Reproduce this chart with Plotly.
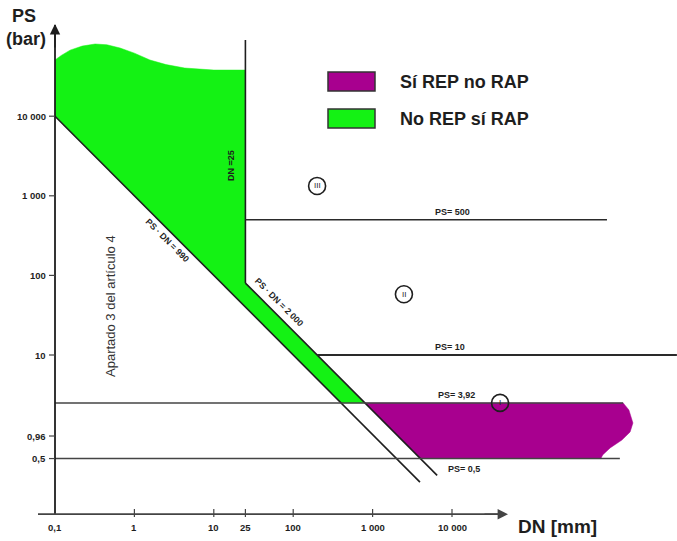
import numpy as np
import plotly.graph_objects as go

# ---------------- data (DN in mm, PS in bar) ----------------
green_dn = [0.1, 0.12, 0.155, 0.22, 0.32, 0.45, 0.66, 1.0, 1.57, 2.5, 4.3, 10, 25, 25, 800, 400, 0.1]
green_ps = [50800, 58000, 67600, 76000, 80700, 79000, 71900, 62000, 50800, 44500, 40300, 38000, 38000,
            80, 2.5, 2.5, 10000]

mag_dn = [800, 1.43e6, 1.69e6, 1.9e6, 1.75e6, 1.38e6, 9.8e5, 7.9e5, 7.5e5, 4000]
mag_ps = [2.5, 2.5, 2.04, 1.4, 1.08, 0.855, 0.68, 0.555, 0.5, 0.5]

line_lower_dn = [0.1, 3950]      # PS·DN = 990
line_lower_ps = [10000, 0.253]
line_upper_dn = [25, 6500]       # PS·DN = 2 000
line_upper_ps = [80, 0.308]
dn25_dn = [25, 25]
dn25_ps = [80, 90600]
ps500_dn = [25, 8.95e5]
ps500_ps = [500, 500]
ps10_dn = [200, 6.8e6]
ps10_ps = [10, 10]
ps392_dn = [0.1, 1.43e6]
ps392_ps = [2.5, 2.5]
ps05_dn = [0.1, 1.3e6]
ps05_ps = [0.5, 0.5]

x_tick_vals = [0.1, 1, 10, 25, 100, 1000, 10000]
x_tick_text = ["0,1", "1", "10", "25", "100", "1 000", "10 000"]
y_tick_vals = [10000, 1000, 100, 10, 0.96, 0.5]
y_tick_text = ["10 000", "1 000", "100", "10", "0,96", "0,5"]

cat_dn = [200, 2480, 40300]
cat_ps = [1330, 58, 2.5]
cat_txt = ["III", "II", "I"]

legend_labels = ["Sí REP no RAP", "No REP sí RAP"]
GREEN = "#14F214"
MAGENTA = "#A8008F"
DARK = "#1e1e1e"

W, H = 677, 541
# pixel -> log helpers (for label placement only)
def lx(px):
    return -1 + (px - 55) / 79.4
def ly(py):
    return 1 + (355 - py) / 79.6

FONT = "Liberation Sans"

fig = go.Figure()
fig.add_trace(go.Scatter(x=green_dn, y=green_ps, fill="toself", fillcolor=GREEN,
                         mode="lines", line=dict(color=GREEN, width=0.5), hoverinfo="skip"))
fig.add_trace(go.Scatter(x=mag_dn, y=mag_ps, fill="toself", fillcolor=MAGENTA,
                         mode="lines", line=dict(color=MAGENTA, width=0.5), hoverinfo="skip"))

for xs, ys, w, c in [
    (line_lower_dn, line_lower_ps, 1.6, DARK),
    (line_upper_dn, line_upper_ps, 1.6, DARK),
    (dn25_dn, dn25_ps, 1.6, DARK),
    (ps500_dn, ps500_ps, 1.5, "#2a2a2a"),
    (ps10_dn, ps10_ps, 2.0, "#2a2a2a"),
    (ps392_dn, ps392_ps, 1.5, "#444444"),
    (ps05_dn, ps05_ps, 1.5, "#444444"),
]:
    fig.add_trace(go.Scatter(x=xs, y=ys, mode="lines", line=dict(color=c, width=w), hoverinfo="skip"))

# axes lines
y_top = 10 ** ly(25)
fig.add_trace(go.Scatter(x=[0.1, 0.1], y=[0.1, y_top], mode="lines",
                         line=dict(color=DARK, width=1.8), hoverinfo="skip"))
fig.add_trace(go.Scatter(x=[10 ** lx(38), 10 ** lx(505)], y=[0.1, 0.1], mode="lines",
                         line=dict(color="#444444", width=1.8), hoverinfo="skip"))

# tick marks
for v in x_tick_vals[1:]:
    fig.add_trace(go.Scatter(x=[v, v], y=[10 ** ly(509), 10 ** ly(517)], mode="lines",
                             line=dict(color="#444444", width=1.2), hoverinfo="skip"))
for v in y_tick_vals:
    fig.add_trace(go.Scatter(x=[10 ** lx(49), 0.1], y=[v, v], mode="lines",
                             line=dict(color="#444444", width=1.2), hoverinfo="skip"))

# category circles
fig.add_trace(go.Scatter(x=cat_dn, y=cat_ps, mode="markers",
                         marker=dict(symbol="circle-open", size=17, color=DARK, line=dict(width=1.6)),
                         hoverinfo="skip"))

ann = []
for d, p, t in zip(cat_dn, cat_ps, cat_txt):
    ann.append(dict(x=np.log10(d), y=np.log10(p), text=t, showarrow=False,
                    font=dict(family=FONT, size=8, color=DARK)))
for v, t in zip(x_tick_vals, x_tick_text):
    ann.append(dict(x=np.log10(v), y=ly(527), text=f"<b>{t}</b>", showarrow=False,
                    font=dict(family=FONT, size=9.5, color=DARK), xanchor="center", yanchor="middle"))
for v, t in zip(y_tick_vals, y_tick_text):
    ann.append(dict(x=lx(48), y=np.log10(v), text=f"<b>{t}</b>", showarrow=False,
                    font=dict(family=FONT, size=9.5, color=DARK), xanchor="right", yanchor="middle"))

# line labels
lbls = [
    dict(x=np.log10(10000), y=np.log10(500), yshift=8, text="<b>PS= 500</b>"),
    dict(x=np.log10(9500), y=np.log10(10), yshift=8, text="<b>PS= 10</b>"),
    dict(x=np.log10(11500), y=np.log10(2.5), yshift=8, text="<b>PS= 3,92</b>"),
    dict(x=np.log10(14000), y=np.log10(0.5), yshift=-10, text="<b>PS= 0,5</b>"),
]
for a in lbls:
    a.update(showarrow=False, font=dict(family=FONT, size=9, color=DARK))
ann += lbls

ann += [
    dict(x=lx(167), y=ly(240), text="<b>PS · DN = 990</b>", textangle=45, showarrow=False,
         font=dict(family=FONT, size=8.8, color=DARK)),
    dict(x=lx(279), y=ly(302), text="<b>PS · DN = 2 000</b>", textangle=45, showarrow=False,
         font=dict(family=FONT, size=8.8, color=DARK)),
    dict(x=lx(231), y=ly(166), text="<b>DN =25</b>", textangle=-90, showarrow=False,
         font=dict(family=FONT, size=9, color=DARK)),
    dict(x=lx(110), y=ly(306), text="Apartado 3 del artículo 4", textangle=-90, showarrow=False,
         font=dict(family=FONT, size=13, color="#333333")),
]

# axis titles
ann += [
    dict(x=24 / W, y=1 - 16 / H, text="<b>PS</b>", font=dict(family=FONT, size=18, color=DARK)),
    dict(x=26 / W, y=1 - 39 / H, text="<b>(bar)</b>", font=dict(family=FONT, size=18, color=DARK)),
    dict(x=557 / W, y=1 - 526 / H, text="<b>DN [mm]</b>", font=dict(family=FONT, size=19, color=DARK)),
]
for a in ann[-3:]:
    a.update(xref="paper", yref="paper", showarrow=False, xanchor="center", yanchor="middle")

# arrows
ann += [
    dict(x=-1, y=ly(24), text="", showarrow=True, arrowhead=2, arrowsize=1.3, arrowwidth=1.6,
         arrowcolor=DARK, ax=0, ay=25),
    dict(x=lx(508), y=-1, text="", showarrow=True, arrowhead=2, arrowsize=1.3, arrowwidth=1.6,
         arrowcolor="#444444", ax=-25, ay=0),
]

# legend
shapes = []
for i, (lab, col) in enumerate(zip(legend_labels, [MAGENTA, GREEN])):
    y0, y1 = [(72, 91), (109, 128)][i]
    shapes.append(dict(type="rect", xref="paper", yref="paper", x0=328 / W, x1=375 / W,
                       y0=1 - y1 / H, y1=1 - y0 / H, fillcolor=col, line=dict(color="#333333", width=1.5)))
    ann.append(dict(x=398 / W, y=1 - (y0 + y1) / 2 / H, xref="paper", yref="paper", text=f"<b>{lab}</b>",
                    showarrow=False, xanchor="left", yanchor="middle",
                    font=dict(family=FONT, size=18, color=DARK)))

fig.update_layout(
    width=W, height=H, margin=dict(l=0, r=0, t=0, b=0),
    paper_bgcolor="white", plot_bgcolor="white", showlegend=False,
    xaxis=dict(type="log", range=[lx(0), lx(W)], visible=False, fixedrange=True),
    yaxis=dict(type="log", range=[ly(H), ly(0)], visible=False, fixedrange=True),
    annotations=ann, shapes=shapes,
)
fig.write_html("out.html", config={"displayModeBar": False},
               post_script="document.body.style.margin='0';document.body.style.overflow='hidden';")
